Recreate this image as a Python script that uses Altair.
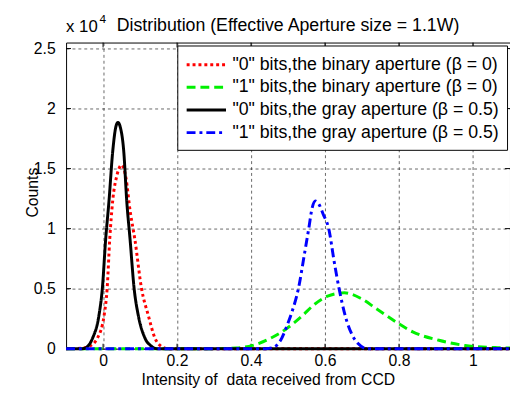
import altair as alt
import pandas as pd

FONT = "Liberation Sans"

series_names = [
    '"0" bits,the binary aperture (β = 0)',
    '"1" bits,the binary aperture (β = 0)',
    '"0" bits,the gray aperture (β = 0.5)',
    '"1" bits,the gray aperture (β = 0.5)',
]
series_colors = ["#ff0000", "#00f000", "#000000", "#0000ff"]
series_dashes = [[3, 3], [9, 5], [1, 0], [9, 4, 3, 4]]

# "0" bits, binary aperture (red dotted)
red_x = [-0.1, -0.06, -0.037, -0.015, 0.003, 0.011, 0.018, 0.026, 0.038, 0.05,
         0.062, 0.073, 0.086, 0.104, 0.122, 0.14, 0.157, 0.175, 1.1]
red_y = [0, 0.003, 0.02, 0.09, 0.28, 0.5, 0.91, 1.23, 1.45, 1.53,
         1.42, 1.15, 0.91, 0.5, 0.28, 0.09, 0.02, 0, 0]

# "1" bits, binary aperture (green dashed)
green_x = [-0.1, 0.3, 0.36, 0.404, 0.448, 0.493, 0.537, 0.572, 0.607, 0.652,
           0.696, 0.74, 0.793, 0.837, 0.908, 0.978, 1.067, 1.1]
green_y = [0, 0, 0.005, 0.027, 0.08, 0.16, 0.27, 0.37, 0.437, 0.465,
           0.42, 0.33, 0.22, 0.14, 0.07, 0.027, 0.008, 0.005]

# "0" bits, gray aperture (black solid)
black_x = [-0.1, -0.055, -0.04, -0.028, -0.011, -0.002, 0.007, 0.016, 0.026, 0.034,
           0.04, 0.047, 0.056, 0.064, 0.073, 0.084, 0.095, 0.113, 0.131, 0.145, 1.1]
black_y = [0, 0, 0.025, 0.09, 0.28, 0.5, 0.91, 1.23, 1.64, 1.84,
           1.885, 1.84, 1.64, 1.23, 0.91, 0.5, 0.28, 0.09, 0.02, 0, 0]

# "1" bits, gray aperture (blue dash-dot)
blue_x = [-0.1, 0.44, 0.46, 0.48, 0.497, 0.51, 0.528, 0.545, 0.556, 0.565, 0.574,
          0.584, 0.595, 0.61, 0.625, 0.638, 0.655, 0.674, 0.69, 0.713, 1.1]
blue_y = [0, 0, 0.01, 0.07, 0.19, 0.3, 0.5, 0.8, 1.0, 1.17, 1.23,
          1.2, 1.12, 1.0, 0.72, 0.5, 0.27, 0.11, 0.04, 0, 0]

x_ticks = [0, 0.2, 0.4, 0.6, 0.8, 1.0]
y_ticks = [0, 0.5, 1.0, 1.5, 2.0, 2.5]

title_text = "Distribution (Effective Aperture size = 1.1W)"
x_title = "Intensity of\u00a0 data received from CCD"
y_title = "Counts"

all_x = [red_x, green_x, black_x, blue_x]
all_y = [red_y, green_y, black_y, blue_y]
rows = []
for name, xs, ys in zip(series_names, all_x, all_y):
    for i, (xv, yv) in enumerate(zip(xs, ys)):
        rows.append({"series": name, "x": xv, "y": yv, "order": i})
df = pd.DataFrame(rows)

W, H = 451, 311

xscale = alt.Scale(domain=[-0.1, 1.1], nice=False, zero=False)
yscale = alt.Scale(domain=[0, 2.55], nice=False, zero=False)

xaxis = alt.Axis(values=x_ticks, format="~g", title=x_title,
                 labelPadding=4, titlePadding=3, titleX=205, titleAlign="center")
yaxis = alt.Axis(values=y_ticks, format="~g", title=y_title, labelPadding=11,
                 titleX=-34, titleY=152, titleBaseline="middle")

color_scale = alt.Scale(domain=series_names, range=series_colors)
dash_scale = alt.Scale(domain=series_names, range=series_dashes)

layers = []
for name in series_names:
    layers.append(
        alt.Chart(df)
        .transform_filter(alt.datum.series == name)
        .mark_line(strokeWidth=3, interpolate="monotone")
        .encode(
            x=alt.X("x:Q", scale=xscale, axis=xaxis),
            y=alt.Y("y:Q", scale=yscale, axis=yaxis),
            order="order:Q",
            color=alt.Color("series:N", scale=color_scale, title=None),
            strokeDash=alt.StrokeDash("series:N", scale=dash_scale, title=None),
        )
    )

xt = pd.DataFrame({"v": x_ticks})
yt = pd.DataFrame({"v": y_ticks})
tick_layers = [
    alt.Chart(xt).mark_rule(color="black", strokeWidth=1).encode(
        x=alt.X("v:Q", scale=xscale), y=alt.value(H), y2=alt.value(H - 5)),
    alt.Chart(xt).mark_rule(color="black", strokeWidth=1).encode(
        x=alt.X("v:Q", scale=xscale), y=alt.value(0), y2=alt.value(5)),
    alt.Chart(yt).mark_rule(color="black", strokeWidth=1).encode(
        y=alt.Y("v:Q", scale=yscale), x=alt.value(0), x2=alt.value(5)),
    alt.Chart(yt).mark_rule(color="black", strokeWidth=1).encode(
        y=alt.Y("v:Q", scale=yscale), x=alt.value(W), x2=alt.value(W - 5)),
]

one = pd.DataFrame({"a": [0]})
exp_base = alt.Chart(one).mark_text(font=FONT, fontSize=17, align="left", baseline="alphabetic",
                                    color="black").encode(
    x=alt.value(0), y=alt.value(-11), text=alt.value("x 10"))
exp_sup = alt.Chart(one).mark_text(font=FONT, fontSize=12, align="left", baseline="alphabetic",
                                   color="black").encode(
    x=alt.value(34), y=alt.value(-20), text=alt.value("4"))
title_mark = alt.Chart(one).mark_text(font=FONT, fontSize=18, align="center",
                                      baseline="alphabetic", color="black").encode(
    x=alt.value(W / 2), y=alt.value(-12), text=alt.value(title_text))

chart = (
    alt.layer(*tick_layers, *layers, exp_base, exp_sup, title_mark)
    .properties(
        width=W,
        height=H,
        autosize=alt.AutoSizeParams(type="none"),
        padding={"left": 59, "top": 32, "right": 0, "bottom": 45},
    )
    .configure_view(stroke="black", strokeWidth=1)
    .configure_axis(
        grid=True, gridColor="black", gridDash=[3, 3], gridWidth=0.6, gridOpacity=1,
        domain=False, ticks=False,
        labelFont=FONT, labelFontSize=16, labelColor="black",
        titleFont=FONT, titleFontSize=16, titleColor="black", titleFontWeight="normal",
    )
    .configure_legend(
        orient="top-right", offset=3, symbolType="M-1,0H3", symbolSize=400,
        symbolStrokeWidth=3, labelFont=FONT, labelFontSize=18, labelColor="black",
        labelLimit=0, strokeColor="black", fillColor="white", padding=8,
        rowPadding=2, labelOffset=25, cornerRadius=0,
    )
)

chart.save("out.html", embed_options={"renderer": "svg", "actions": False})
